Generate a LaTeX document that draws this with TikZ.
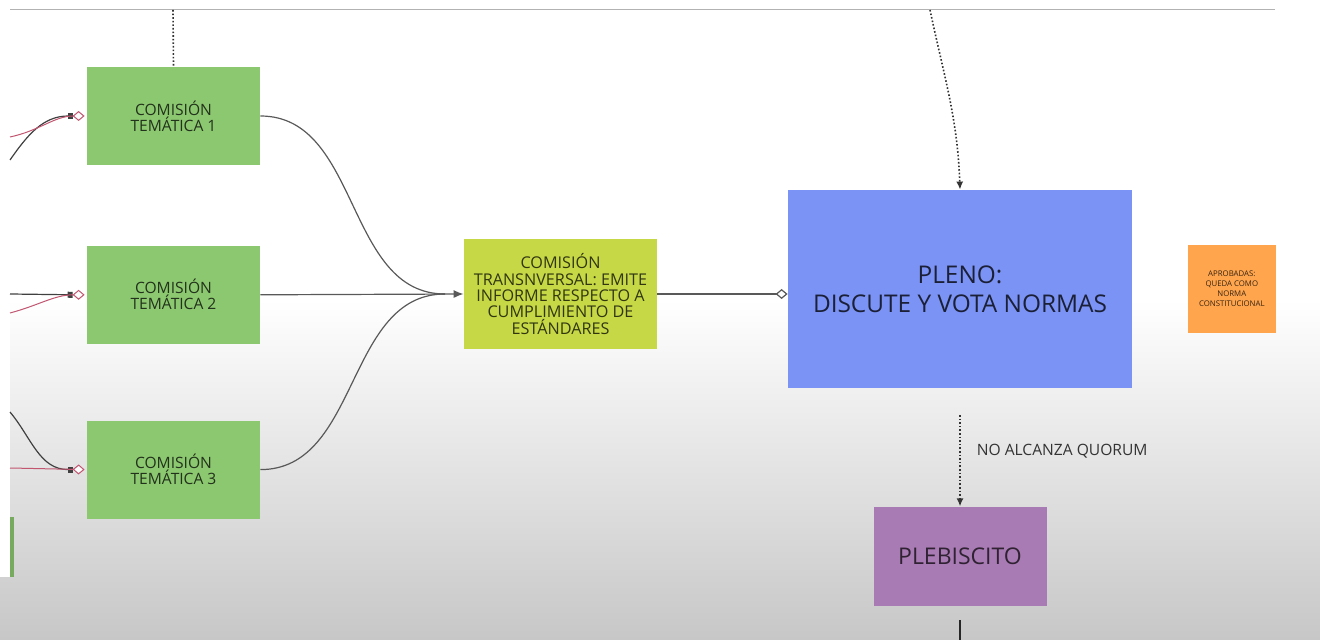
\documentclass[tikz,border=0pt]{standalone}
\usepackage{fontspec}
\setmainfont{Open Sans}
\usetikzlibrary{arrows.meta,positioning}

\definecolor{temagreen}{HTML}{8CC870}
\definecolor{trans}{HTML}{C6D845}
\definecolor{pleno}{HTML}{7B93F5}
\definecolor{aprob}{HTML}{FFA54E}
\definecolor{pleb}{HTML}{A97BB4}
\definecolor{pinkline}{HTML}{C25670}

\begin{document}
\begin{tikzpicture}[x=0.5pt, y=0.5pt]
\tikzset{BoxStyle/.style = {draw=none, align=center, inner sep=0pt}}
\tikzset{TemaStyle/.style = {BoxStyle, fill=temagreen, minimum width=86.5pt, minimum height=49pt, text=temagreen!25!black, font=\fontsize{7.8}{8}\selectfont}}
\tikzset{TransStyle/.style = {BoxStyle, fill=trans, minimum width=96.5pt, minimum height=55pt, text=trans!25!black, font=\fontsize{8.1}{8.2}\selectfont}}
\tikzset{PlenoStyle/.style = {BoxStyle, fill=pleno, minimum width=172pt, minimum height=99pt, text=pleno!22!black, font=\fontsize{12.2}{14.5}\selectfont}}
\tikzset{AprobStyle/.style = {BoxStyle, fill=aprob, minimum size=44pt, text=aprob!22!black, font=\fontsize{3.9}{5}\selectfont}}
\tikzset{PlebStyle/.style = {BoxStyle, fill=pleb, minimum width=86.5pt, minimum height=49.5pt, text=pleb!28!black, font=\fontsize{11.5}{12}\selectfont}}
\tikzset{EdgeStyle/.style = {draw=black!65, line width=0.6pt}}
\tikzset{DarkStyle/.style = {draw=black!75, line width=0.6pt, -{Rectangle[length=2.5pt,width=3pt]}}}
\tikzset{PinkStyle/.style = {draw=pinkline, line width=0.5pt}}
\tikzset{DotStyle/.style = {draw=black!80, densely dotted, line width=0.8pt}}
\tikzset{LabelStyle/.style = {inner sep=0pt, text=black!80, font=\fontsize{7.8}{8}\selectfont}}

% page and faded screen
\useasboundingbox (0,0) rectangle (1320,-640);
\shade[top color=white, middle color=black!7, bottom color=black!22] (0,-300) rectangle (1320,-640);
\fill[white] (0,0) rectangle (10,-577);
\fill[temagreen!85!black] (10,-517) rectangle (14,-577);
\coordinate (H1) at (10,-9);
\coordinate (H2) at (1275,-9);
\draw[black!30, line width=0.4pt] (H1) -- (H2);

% boxes
\node[TemaStyle] (C1) at (173.5,-116) {COMISIÓN\\TEMÁTICA 1};
\node[TemaStyle, below=40pt of C1] (C2) {COMISIÓN\\TEMÁTICA 2};
\node[TemaStyle, below=38pt of C2] (C3) {COMISIÓN\\TEMÁTICA 3};
\node[TransStyle] (T) at (560.5,-294) {COMISIÓN\\TRANSNVERSAL: EMITE\\INFORME RESPECTO A\\CUMPLIMIENTO DE\\ESTÁNDARES};
\node[PlenoStyle] (P) at (960,-289) {PLENO:\\DISCUTE Y VOTA NORMAS};
\node[AprobStyle, right=27.5pt of P] (A) {APROBADAS:\\QUEDA COMO\\NORMA\\CONSTITUCIONAL};
\node[PlebStyle, below=59pt of P] (B) {PLEBISCITO};

% comisiones to transversal
\coordinate (J) at (445,-294);
\draw[EdgeStyle] (C1.east) to[out=0, in=180] (J);
\draw[EdgeStyle] (C3.east) to[out=0, in=180] (J);
\draw[EdgeStyle, -{Latex[length=5pt,width=4pt]}] (C2.east) -- (T.west);
\draw[EdgeStyle, -{Diamond[open,fill=white,length=6pt,width=5pt]}] (T.east) -- (T.east -| P.west);

% dotted ones
\coordinate (D1) at (173,-10);
\coordinate (D2) at (930,-10);
\coordinate (D3) at (960,-415);
\draw[DotStyle] (D1) -- (C1.north);
\draw[DotStyle, -{Latex[length=4pt,width=3.5pt]}] (D2) to[out=-78, in=92] (P.north);
\draw[DotStyle, -{Latex[length=4pt,width=3.5pt]}] (D3) -- (B.north)
  node[LabelStyle, pos=0.4, anchor=west, xshift=8pt] {NO ALCANZA QUORUM};
\coordinate (E1) at (960,-620);
\coordinate (E2) at (960,-640);
\draw[EdgeStyle, draw=black!85] (E1) -- (E2);

% incoming from the left
\coordinate (L1a) at (10,-137);
\coordinate (L1b) at (10,-160);
\coordinate (L2a) at (10,-294);
\coordinate (L2b) at (10,-313);
\coordinate (L3a) at (10,-412);
\coordinate (L3b) at (10,-468);
\draw[DarkStyle] (L1b) to[out=55, in=180] ([xshift=-7pt]C1.west);
\draw[PinkStyle, -{Diamond[open,fill=white,length=6pt,width=5pt]}] (L1a) to[out=12, in=180] ([xshift=-1pt]C1.west);
\draw[DarkStyle] (L2a) -- ([xshift=-7pt]C2.west);
\draw[PinkStyle, -{Diamond[open,fill=white,length=6pt,width=5pt]}] (L2b) to[out=15, in=180] ([xshift=-1pt]C2.west);
\draw[DarkStyle] (L3a) to[out=-50, in=180] ([xshift=-7pt]C3.west);
\draw[PinkStyle, -{Diamond[open,fill=white,length=6pt,width=5pt]}] (L3b) -- ([xshift=-1pt]C3.west);
\end{tikzpicture}
\end{document}
